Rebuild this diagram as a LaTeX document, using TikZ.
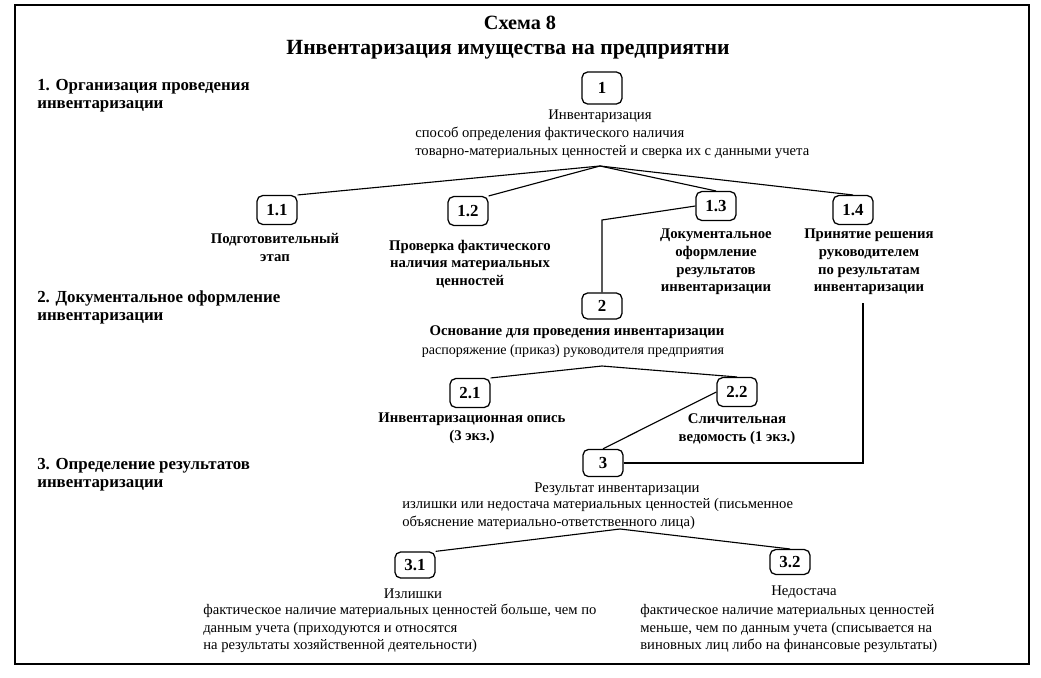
\documentclass[tikz,border=0pt]{standalone}
\usepackage{fontspec}
\setmainfont{Liberation Serif}
\tikzset{
  numbox/.style={draw,rounded corners=4pt,line width=0.9pt,minimum width=1cm,minimum height=0.72cm,inner sep=1pt,font=\bfseries\fontsize{12}{14}\selectfont},
  lbl/.style={align=center,inner sep=0pt,font=\fontsize{10.5}{12.5}\selectfont},
  blbl/.style={lbl,font=\bfseries\fontsize{10.5}{12.5}\selectfont},
  desc/.style={align=left,anchor=west,inner sep=0pt,font=\fontsize{10.4}{12.5}\selectfont},
  head/.style={align=left,anchor=west,inner sep=0pt,font=\bfseries\fontsize{12}{12.5}\selectfont},
  link/.style={line width=0.8pt}
}
\begin{document}
\begin{tikzpicture}[x=0.025cm,y=-0.025cm]
		    \useasboundingbox (0,0) rectangle (1041,678);
		    \draw[line width=1.3pt](15,5) rectangle (1029,664);
		    \node[inner sep=0pt,font=\bfseries\fontsize{14.4}{16}\selectfont] (title) at (520,23) {Схема 8};
		    \node[inner sep=0pt,font=\bfseries\fontsize{15.4}{17}\selectfont] (subtitle) at (508,50) {Инвентаризация имущества на предприятни};
		    \node[head] (h1) at (37,95.5) {1. Организация проведения\\инвентаризации};
		    \node[head] (h2) at (37,307.5) {2. Документальное оформление\\инвентаризации};
		    \node[head] (h3) at (37,474.5) {3. Определение результатов\\инвентаризации};
		    % level 1
		    \node[numbox,minimum height=0.8cm] (b1) at (602,88) {1};
		    \node[lbl] (t1) at (600,116) {Инвентаризация};
		    \node[desc] (d1) at (415,143) {способ определения фактического наличия\\товарно-материальных ценностей и сверка их с данными учета};
		    \coordinate (apex1) at (600,166);
		    \node[numbox] (b11) at (277,210) {1.1};
		    \node[numbox] (b12) at (468,211) {1.2};
		    \node[numbox] (b13) at (716,206) {1.3};
		    \node[numbox] (b14) at (853,210) {1.4};
		    \node[blbl] (t11) at (275,247.5) {Подготовительный\\этап};
		    \node[blbl] (t12) at (470,264) {Проверка фактического\\наличия материальных\\ценностей};
		    \node[blbl] (t13) at (716,262) {Документальное\\оформление\\результатов\\инвентаризации};
		    \node[blbl] (t14) at (869,262) {Принятие решения\\руководителем\\по результатам\\инвентаризации};
		    \draw[link](apex1)--(b11.north east);
		    \draw[link](apex1)--(b12.north east);
		    \draw[link](apex1)--(b13.north);
		    \draw[link](apex1)--(b14.north);
		    % level 2
		    \node[numbox,minimum height=0.65cm] (b2) at (602,306) {2};
		    \coordinate (bend13) at (602,220);
		    \draw[link](b13.west)--(bend13)--(b2.north);
		    \node[blbl] (t2) at (577,332) {Основание для проведения инвентаризации};
		    \node[lbl,font=\fontsize{10}{12.5}\selectfont] (d2) at (573,351) {распоряжение (приказ) руководителя предприятия};
		    \coordinate (apex2) at (602,366);
		    \node[numbox] (b21) at (470,393) {2.1};
		    \node[numbox] (b22) at (737,392) {2.2};
		    \node[blbl] (t21) at (472,428) {Инвентаризационная опись\\(3 экз.)};
		    \node[blbl] (t22) at (737,429) {Сличительная\\ведомость (1 экз.)};
		    \draw[link](apex2)--(b21.north east);
		    \draw[link](apex2)--(b22.north);
		    % level 3
		    \node[numbox,minimum height=0.68cm] (b3) at (603,463) {3};
		    \coordinate (corner3) at (863,463);
		    \coordinate (foot14) at (863,303);
		    \draw[link](b22.west)--(b3.north);
		    \draw[link](b3.east)--(corner3)--(foot14);
		    \node[lbl] (t3) at (617,489) {Результат инвентаризации};
		    \node[desc] (d3) at (402,514) {излишки или недостача материальных ценностей (письменное\\объяснение материально-ответственного лица)};
		    \coordinate (apex3) at (620,529);
		    \node[numbox,minimum height=0.65cm] (b31) at (415,565) {3.1};
		    \node[numbox,minimum height=0.62cm] (b32) at (790,562) {3.2};
		    \draw[link](apex3)--(b31.north east);
		    \draw[link](apex3)--(b32.north);
		    \node[lbl] (t31) at (413,594) {Излишки};
		    \node[desc] (d31) at (203,628.5) {фактическое наличие материальных ценностей больше, чем по\\данным учета (приходуются и относятся\\на результаты хозяйственной деятельности)};
		    \node[lbl] (t32) at (804,592) {Недостача};
		    \node[desc] (d32) at (640,628.5) {фактическое наличие материальных ценностей\\меньше, чем по данным учета (списывается на\\виновных лиц либо на финансовые результаты)};
		\end{tikzpicture}
\end{document}
